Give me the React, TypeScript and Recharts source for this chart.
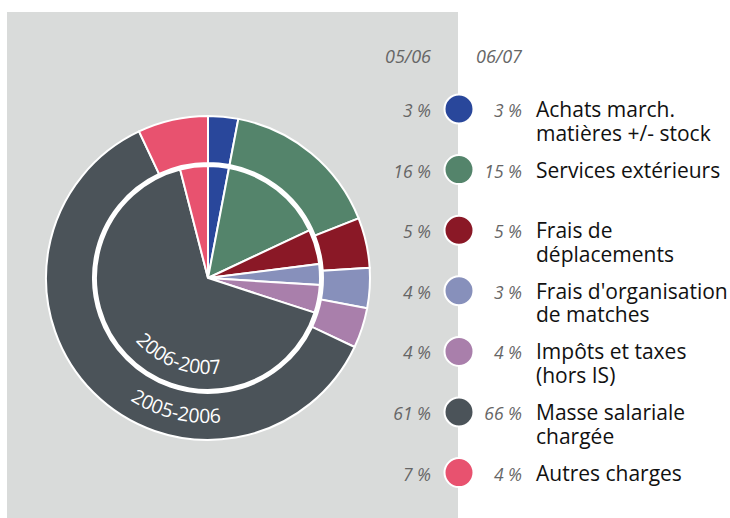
import React from "react"
import { PieChart, Pie, Cell } from "recharts"

const categories = [
  ["Achats march.", "matières +/- stock"],
  ["Services extérieurs"],
  ["Frais de", "déplacements"],
  ["Frais d'organisation", "de matches"],
  ["Impôts et taxes", "(hors IS)"],
  ["Masse salariale", "chargée"],
  ["Autres charges"],
]

// 2005-2006 (outer ring) and 2006-2007 (inner pie), in %
const share0506 = [3, 16, 5, 4, 4, 61, 7]
const share0607 = [3, 15, 5, 3, 4, 66, 4]

const colors = ["#29479b", "#54846b", "#8a1826", "#8790bb", "#a97fab", "#4b5359", "#e8526f"]

const columnHeads = ["05/06", "06/07"]
const ringLabels = ["2005-2006", "2006-2007"]

const CX = 208
const CY = 278
const FONT = "'Open Sans', sans-serif"

const outerData = categories.map((c, i) => ({ name: c.join(" "), value: share0506[i] }))
const innerData = categories.map((c, i) => ({ name: c.join(" "), value: share0607[i] }))

// half circle through the bottom, left to right, for the curved ring labels
const bottomArc = (r: number) =>
  `M ${CX - r} ${CY} A ${r} ${r} 0 0 0 ${CX + r} ${CY}`

export default function App() {
  return (
    <div style={{ position: "absolute", left: 0, top: 0, width: 730, height: 518, background: "#fff" }}>
      <div style={{ position: "absolute", left: 7, top: 12, width: 451, height: 506, background: "#d9dbda" }} />
      <div
        style={{
          position: "absolute",
          left: CX - 116,
          top: CY - 116,
          width: 232,
          height: 232,
          borderRadius: "50%",
          background: "#fff",
        }}
      />
      <div style={{ position: "absolute", left: 0, top: 0 }}>
        <PieChart width={730} height={518} margin={{ top: 0, right: 0, bottom: 0, left: 0 }}>
          <Pie
            data={outerData}
            dataKey="value"
            cx={CX}
            cy={CY}
            innerRadius={115}
            outerRadius={162}
            startAngle={90}
            endAngle={-270}
            stroke="#fff"
            strokeWidth={2}
            isAnimationActive={false}
          >
            {outerData.map((d, i) => (
              <Cell key={d.name} fill={colors[i]} />
            ))}
          </Pie>
          <Pie
            data={innerData}
            dataKey="value"
            cx={CX}
            cy={CY}
            innerRadius={0}
            outerRadius={112}
            startAngle={90}
            endAngle={-270}
            stroke="#fff"
            strokeWidth={2}
            isAnimationActive={false}
          >
            {innerData.map((d, i) => (
              <Cell key={d.name} fill={colors[i]} />
            ))}
          </Pie>
        </PieChart>
      </div>

      <svg
        width={730}
        height={518}
        style={{ position: "absolute", left: 0, top: 0, pointerEvents: "none" }}
        fontFamily={FONT}
      >
        <defs>
          <path id="arcOuter" d={bottomArc(145)} />
          <path id="arcInner" d={bottomArc(96)} />
        </defs>
        <text fill="#fff" fontSize={19.5}>
          <textPath href="#arcOuter" startOffset="42.4%" textAnchor="middle">
            {ringLabels[0]}
          </textPath>
        </text>
        <text fill="#fff" fontSize={19.5}>
          <textPath href="#arcInner" startOffset="38.6%" textAnchor="middle">
            {ringLabels[1]}
          </textPath>
        </text>

        <text x={431} y={63} textAnchor="end" fontSize={18} fontStyle="italic" fill="#666">
          {columnHeads[0]}
        </text>
        <text x={522} y={63} textAnchor="end" fontSize={18} fontStyle="italic" fill="#666">
          {columnHeads[1]}
        </text>

        {categories.map((lines, i) => {
          const y = 109 + i * 60.6
          return (
            <g key={i}>
              <circle cx={459} cy={y} r={14.5} fill={colors[i]} stroke="#fff" strokeWidth={2} />
              <text x={431} y={y + 8} textAnchor="end" fontSize={17.5} fontStyle="italic" fill="#666">
                {share0506[i]} %
              </text>
              <text x={522} y={y + 8} textAnchor="end" fontSize={17.5} fontStyle="italic" fill="#666">
                {share0607[i]} %
              </text>
              {lines.map((t, j) => (
                <text key={j} x={536} y={y + 8 + j * 23.5} fontSize={21} fill="#111">
                  {t}
                </text>
              ))}
            </g>
          )
        })}
      </svg>
    </div>
  )
}
